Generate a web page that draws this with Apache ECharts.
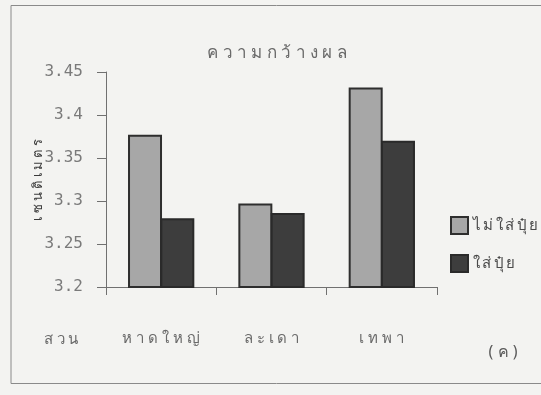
<!DOCTYPE html>
<html>
<head>
<meta charset="utf-8">
<script src="https://cdn.jsdelivr.net/npm/echarts@6/dist/echarts.min.js"></script>
<style>
  html, body { margin: 0; padding: 0; background: #f3f3f1; }
  #chart { width: 541px; height: 395px; }
</style>
</head>
<body>
<div id="chart"></div>
<script>
// Fruit width by orchard, with and without fertiliser
const orchards = ['หาดใหญ่', 'ละเดา', 'เทพา'];
const noFertiliser = [3.377, 3.297, 3.432];
const withFertiliser = [3.28, 3.286, 3.37];
const seriesNames = ['ไม่ใส่ปุ๋ย', 'ใส่ปุ๋ย'];
const yMin = 3.2, yMax = 3.45, yStep = 0.05;

// Spread text out one grapheme cluster at a time (typewriter look)
const seg = (typeof Intl !== 'undefined' && Intl.Segmenter) ? new Intl.Segmenter('th', { granularity: 'grapheme' }) : null;
function spaced(s, gap) {
  const parts = seg ? Array.from(seg.segment(String(s)), p => p.segment) : Array.from(String(s));
  return parts.join(gap || ' ');
}
const THIN = '\u2009';

const FONT = '"Noto Sans", "DejaVu Sans", sans-serif';
const chart = echarts.init(document.getElementById('chart'), null, { renderer: 'canvas' });

chart.setOption({
  backgroundColor: '#f3f3f1',
  animation: false,
  grid: { left: 106, right: 104, top: 72, bottom: 108 },
  legend: {
    orient: 'vertical', left: 445, top: 211,
    itemWidth: 17, itemHeight: 17, itemGap: 19,
    icon: 'rect',
    textStyle: { fontFamily: FONT, fontSize: 15, color: '#4a4a4a' },
    formatter: n => spaced(n, THIN),
    data: seriesNames
  },
  xAxis: {
    type: 'category',
    data: orchards,
    axisLine: { lineStyle: { color: '#707070', width: 1 } },
    axisTick: { show: true, length: 8, inside: false, lineStyle: { color: '#707070' } },
    axisLabel: {
      margin: 44, fontFamily: FONT, fontSize: 15, color: '#6a6a6a',
      formatter: v => spaced(v)
    }
  },
  yAxis: {
    type: 'value',
    min: yMin, max: yMax, interval: yStep,
    splitLine: { show: false },
    axisLine: { show: true, lineStyle: { color: '#707070', width: 1 } },
    axisTick: { show: true, length: 9, lineStyle: { color: '#707070' } },
    axisLabel: {
      margin: 23, fontFamily: '"DejaVu Sans Mono", monospace', fontSize: 16, color: '#7a7a7a',
      formatter: v => parseFloat(v.toFixed(2)).toString()
    }
  },
  series: [
    {
      name: seriesNames[0], type: 'bar', data: noFertiliser,
      barWidth: 34, barGap: '-5%',
      itemStyle: { color: '#a7a7a7', borderColor: '#2e2e2e', borderWidth: 2 }
    },
    {
      name: seriesNames[1], type: 'bar', data: withFertiliser,
      barWidth: 34, barGap: '-5%',
      itemStyle: { color: '#3d3d3d', borderColor: '#2a2a2a', borderWidth: 2 }
    }
  ],
  graphic: [
    {
      type: 'rect', silent: true, z: -1,
      shape: { x: 11, y: 5.5, width: 560, height: 378 },
      style: { fill: 'none', stroke: '#8a8a8a', lineWidth: 1 }
    },
    {
      type: 'text', x: 277, y: 53,
      style: {
        text: spaced('ความกว้างผล'), font: '17px ' + FONT, fill: '#6a6a6a',
        align: 'center', verticalAlign: 'middle'
      }
    },
    {
      type: 'text', x: 38, y: 180, rotation: Math.PI / 2,
      style: {
        text: spaced('เซนติเมตร'), font: '13px ' + FONT, fill: '#3a3a3a',
        align: 'center', verticalAlign: 'middle'
      }
    },
    {
      type: 'text', x: 61, y: 340,
      style: { text: spaced('สวน'), font: '15px ' + FONT, fill: '#6a6a6a', align: 'center', verticalAlign: 'middle' }
    },
    {
      type: 'text', x: 503, y: 352,
      style: { text: spaced('(ค)'), font: '16px ' + FONT, fill: '#5a5a5a', align: 'center', verticalAlign: 'middle' }
    }
  ]
});
</script>
</body>
</html>
